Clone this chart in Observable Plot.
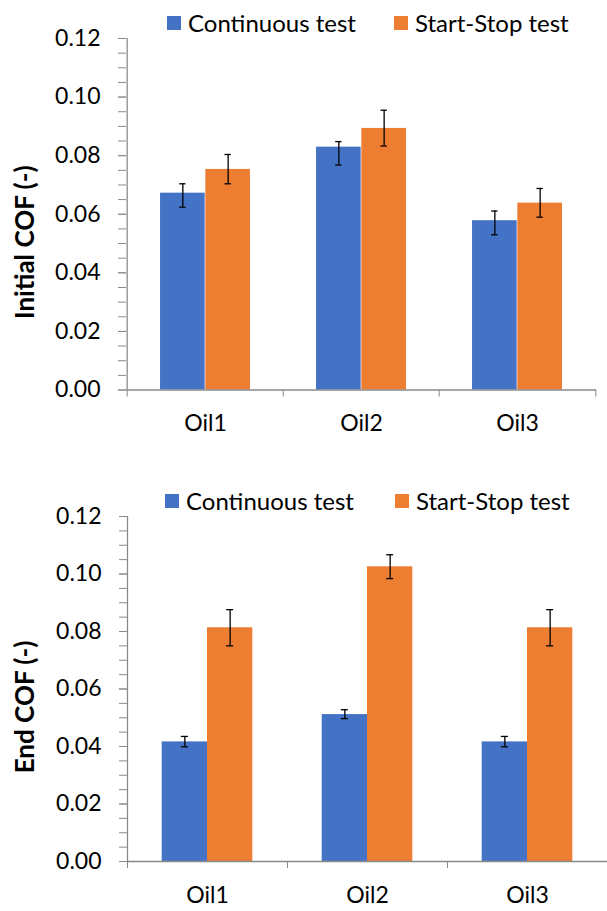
<!DOCTYPE html>
<html><head><meta charset="utf-8">
<script src="https://cdn.jsdelivr.net/npm/d3@7"></script>
<script src="https://cdn.jsdelivr.net/npm/@observablehq/plot@0.6"></script>
<style>
body{margin:0;background:#fff;width:607px;height:911px;position:relative;overflow:hidden;font-family:Lato,sans-serif;}
.item{position:absolute;display:flex;align-items:center;font-size:24px;line-height:28px;height:28px;color:#000;white-space:nowrap;}
.sw{display:inline-block;width:14px;height:14px;margin-right:7px;}
#p1{position:absolute;left:0;top:0}
#p2{position:absolute;left:0;top:455px}
</style></head><body>
<div id="p1"></div><div id="p2"></div>
<div id="legends"></div>
<script>
const categories = ["Oil1", "Oil2", "Oil3"];
const seriesNames = ["Continuous test", "Start-Stop test"];
const seriesColors = ["#4472C4", "#ED7D31"];

const initialContinuous        = [0.0672, 0.0829, 0.0578];
const initialContinuousErrLow  = [0.0624, 0.0768, 0.0530];
const initialContinuousErrHigh = [0.0704, 0.0848, 0.0611];
const initialStartStop         = [0.0753, 0.0893, 0.0638];
const initialStartStopErrLow   = [0.0704, 0.0833, 0.0590];
const initialStartStopErrHigh  = [0.0804, 0.0955, 0.0688];

const endContinuous        = [0.0416, 0.0511, 0.0416];
const endContinuousErrLow  = [0.0399, 0.0497, 0.0399];
const endContinuousErrHigh = [0.0435, 0.0528, 0.0435];
const endStartStop         = [0.0813, 0.1025, 0.0813];
const endStartStopErrLow   = [0.0750, 0.0984, 0.0750];
const endStartStopErrHigh  = [0.0876, 0.1067, 0.0876];

const yTicks = [0, 0.02, 0.04, 0.06, 0.08, 0.10, 0.12];
const yMinorTicks = d3.ticks(0, 0.12, 24);

const AXIS = "#8a8a8a";
const W = 607;

function rowsFor(vals, lows, highs, s) {
  return categories.map((c, i) => ({cat: c, series: seriesNames[s], value: vals[i], lo: lows[i], hi: highs[i]}));
}

function chart(o) {
  const bw = (W - o.marginLeft - o.marginRight) / categories.length;
  const barW = 45.3;
  const outer = (bw - 2 * barW) / 2;
  const capIn = (bw - 7) / 2;
  const r0 = rowsFor(o.a, o.aLo, o.aHi, 0);
  const r1 = rowsFor(o.b, o.bLo, o.bHi, 1);
  const errMarks = (rows, off) => [
    Plot.ruleX(rows, {x: "cat", y1: "lo", y2: "hi", dx: off, stroke: "#000", strokeWidth: 1.3}),
    Plot.tickY(rows, {x: "cat", y: "lo", dx: off, insetLeft: capIn, insetRight: capIn, stroke: "#000", strokeWidth: 1.3}),
    Plot.tickY(rows, {x: "cat", y: "hi", dx: off, insetLeft: capIn, insetRight: capIn, stroke: "#000", strokeWidth: 1.3})
  ];
  return Plot.plot({
    width: W, height: o.height,
    marginLeft: o.marginLeft, marginRight: o.marginRight, marginTop: o.marginTop, marginBottom: o.marginBottom,
    style: {fontFamily: "Lato, sans-serif", fontSize: "23px", color: "#000", background: "transparent", overflow: "visible"},
    x: {domain: categories, paddingInner: 0, paddingOuter: 0, label: null},
    y: {domain: [0, 0.12], label: null},
    marks: [
      Plot.barY(r0, {x: "cat", y: "value", fill: seriesColors[0], insetLeft: outer, insetRight: outer + barW}),
      Plot.barY(r1, {x: "cat", y: "value", fill: seriesColors[1], insetLeft: outer + barW, insetRight: outer}),
      ...errMarks(r0, -barW / 2),
      ...errMarks(r1, barW / 2),
      Plot.ruleY([0], {stroke: AXIS, strokeWidth: 1.3}),
      Plot.ruleX([categories[0]], {x: d => d, dx: -bw / 2, stroke: AXIS, strokeWidth: 1.3}),
      Plot.axisY({ticks: yMinorTicks, tickSize: 8, tickFormat: () => "", stroke: AXIS, label: null}),
      Plot.axisY({ticks: yTicks, tickSize: 8, tickPadding: 18, tickFormat: d3.format(".2f"), stroke: AXIS, fill: "#000", label: null}),
      Plot.axisX({tickSize: 7, tickFormat: () => "", dx: -bw / 2, stroke: AXIS, label: null}),
      Plot.axisX({ticks: [categories[categories.length - 1]], tickSize: 7, tickFormat: () => "", dx: bw / 2, stroke: AXIS, label: null}),
      Plot.axisX({tickSize: 0, tickPadding: 25, fill: "#000", label: null}),
      Plot.text([o.title], {text: d => d, frameAnchor: "left", textAnchor: "middle", lineAnchor: "middle", dx: o.titleDx, dy: o.titleDy, rotate: -90, fontWeight: "bold", fontSize: 26, fill: "#000"})
    ]
  });
}

document.getElementById("p1").append(chart({
  a: initialContinuous, aLo: initialContinuousErrLow, aHi: initialContinuousErrHigh,
  b: initialStartStop, bLo: initialStartStopErrLow, bHi: initialStartStopErrHigh,
  title: "Initial COF (-)", height: 450, marginLeft: 126, marginRight: 11, marginTop: 38, marginBottom: 60.5,
  titleDx: -101, titleDy: 28
}));
document.getElementById("p2").append(chart({
  a: endContinuous, aLo: endContinuousErrLow, aHi: endContinuousErrHigh,
  b: endStartStop, bLo: endStartStopErrLow, bHi: endStartStopErrHigh,
  title: "End COF (-)", height: 456, marginLeft: 127, marginRight: 0, marginTop: 61, marginBottom: 50,
  titleDx: -102, titleDy: 18
}));

const legendSpots = [
  {top: 8.5, lefts: [167, 394]},
  {top: 487, lefts: [165, 395]}
];
const lg = document.getElementById("legends");
legendSpots.forEach(spot => {
  seriesNames.forEach((name, i) => {
    const d = document.createElement("div");
    d.className = "item";
    d.style.top = spot.top + "px";
    d.style.left = spot.lefts[i] + "px";
    const sw = document.createElement("span");
    sw.className = "sw";
    sw.style.background = seriesColors[i];
    d.append(sw, document.createTextNode(name));
    lg.append(d);
  });
});
</script>
</body></html>
